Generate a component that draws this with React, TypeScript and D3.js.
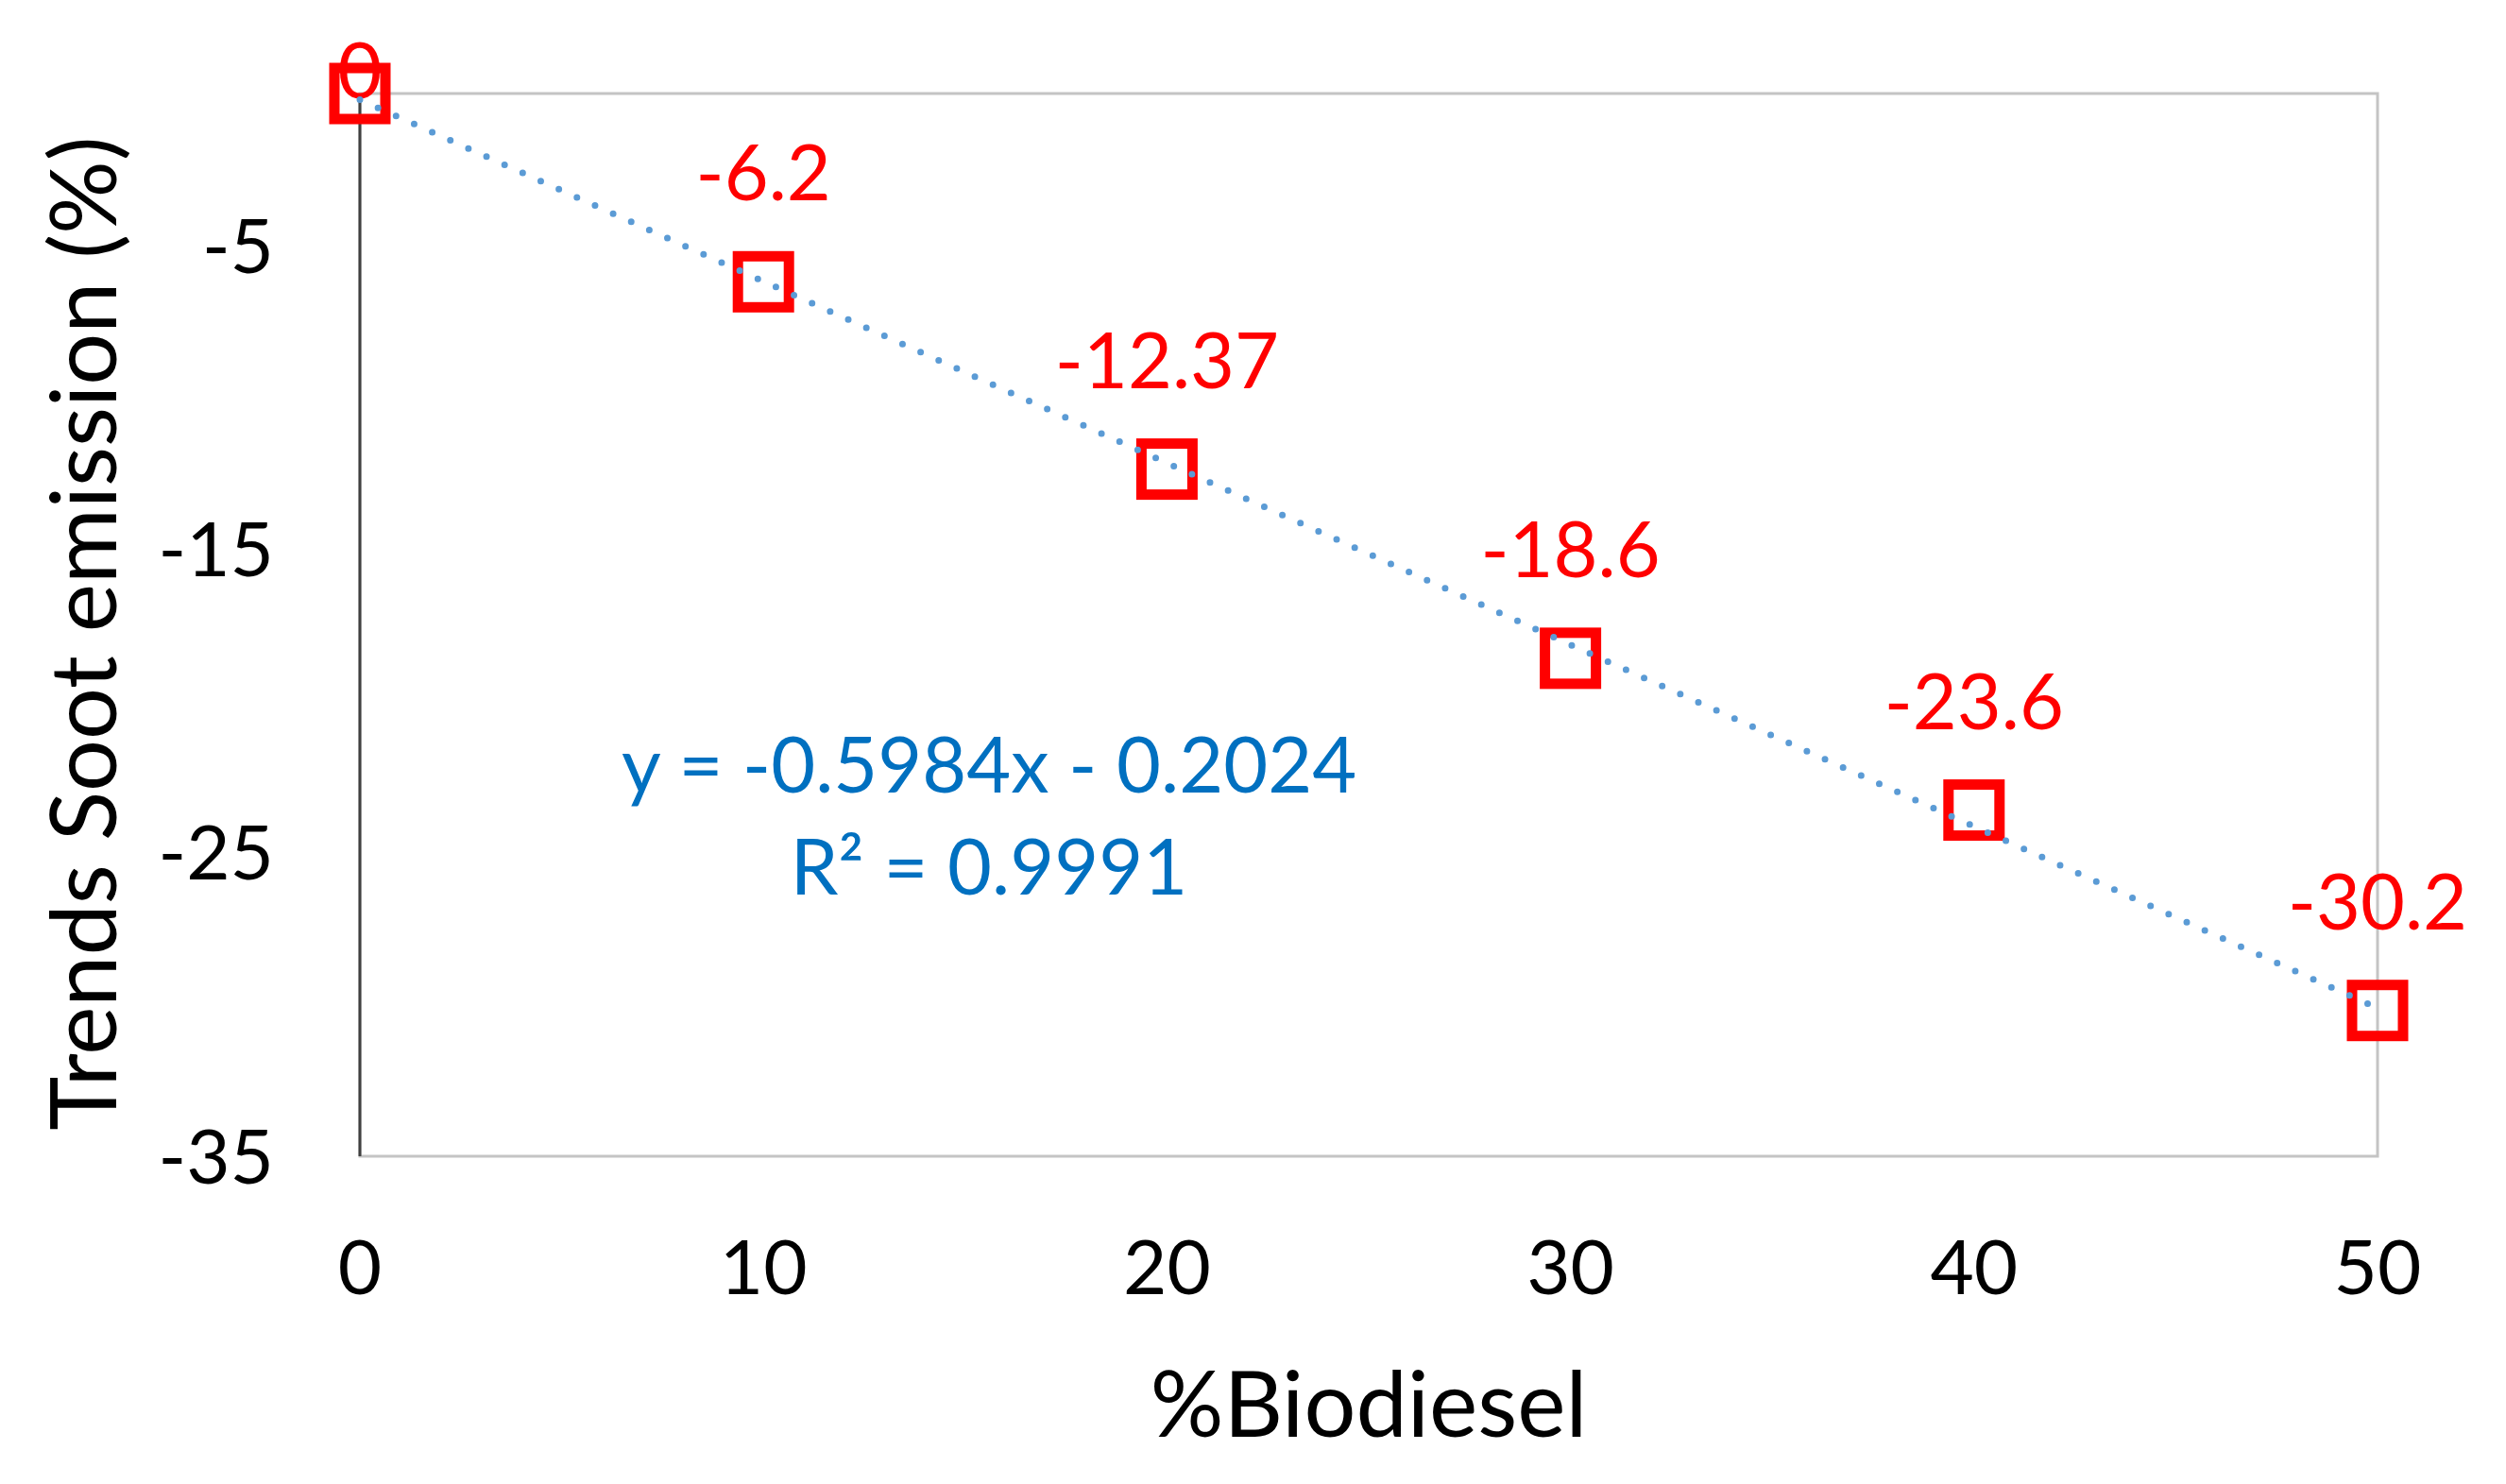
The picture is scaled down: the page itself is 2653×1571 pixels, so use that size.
import * as d3 from "d3";

const blend = [0, 10, 20, 30, 40, 50];
const soot = [0, -6.2, -12.37, -18.6, -23.6, -30.2];
const pointLabels = ["0", "-6.2", "-12.37", "-18.6", "-23.6", "-30.2"];
const xTicks = [0, 10, 20, 30, 40, 50];
const yTicks = [-5, -15, -25, -35];
const slope = -0.5984;
const intercept = -0.2024;
const equationLines = ["y = -0.5984x - 0.2024", "R² = 0.9991"];

const width = 2653;
const height = 1571;
const font = "Lato, 'Open Sans', sans-serif";

export default function App() {
  const x = d3.scaleLinear([0, 50], [381, 2517]);
  const y = d3.scaleLinear([-35, 0], [1224, 99]);

  const fit = d3.line<number>()
    .x((d) => x(d))
    .y((d) => y(slope * d + intercept));

  const side = 54;

  return (
    <svg width={width} height={height} style={{ position: "absolute", left: 0, top: 0, background: "white" }}
      fontFamily={font}>
      {/* plot frame */}
      <rect x={x(0)} y={y(0)} width={x(50) - x(0)} height={y(-35) - y(0)} fill="none" stroke="#c4c4c4" strokeWidth={3} />
      <line x1={x(0)} x2={x(0)} y1={y(0)} y2={y(-35)} stroke="#404040" strokeWidth={3} />

      {/* y ticks */}
      <g fontSize={80} textAnchor="end" fill="#000">
        {yTicks.map((t) => (
          <text key={t} x={290} y={y(t)} dy="0.36em">{t}</text>
        ))}
      </g>
      {/* x ticks */}
      <g fontSize={80} textAnchor="middle" fill="#000">
        {xTicks.map((t) => (
          <text key={t} x={x(t)} y={1341} dy="0.36em">{t}</text>
        ))}
      </g>

      <text x={(x(0) + x(50)) / 2} y={1486} dy="0.36em" fontSize={97} textAnchor="middle">%Biodiesel</text>
      <text transform={`translate(123,${(y(0) + y(-35)) / 2 + 9}) rotate(-90)`} fontSize={97} textAnchor="middle">
        Trends Soot emission (%)
      </text>

      {/* markers */}
      <g fill="none" stroke="#ff0000" strokeWidth={11}>
        {blend.map((b, i) => (
          <rect key={b} x={x(b) - side / 2} y={y(soot[i]) - side / 2} width={side} height={side} />
        ))}
      </g>

      {/* data labels */}
      <g fontSize={81} textAnchor="middle" fill="#ff0000">
        {blend.map((b, i) => (
          <text key={b} x={x(b)} y={Math.max(y(soot[i]) - 115, 75)} dy="0.36em">{pointLabels[i]}</text>
        ))}
      </g>

      {/* linear trendline */}
      <path d={fit([0, 50]) ?? ""} fill="none" stroke="#5b9bd5" strokeWidth={7}
        strokeLinecap="round" strokeDasharray="0 21" />

      <g fontSize={81} textAnchor="middle" fill="#0070c0">
        {equationLines.map((l, i) => (
          <text key={l} x={1047} y={810 + i * 108} dy="0.36em">{l}</text>
        ))}
      </g>
    </svg>
  );
}
